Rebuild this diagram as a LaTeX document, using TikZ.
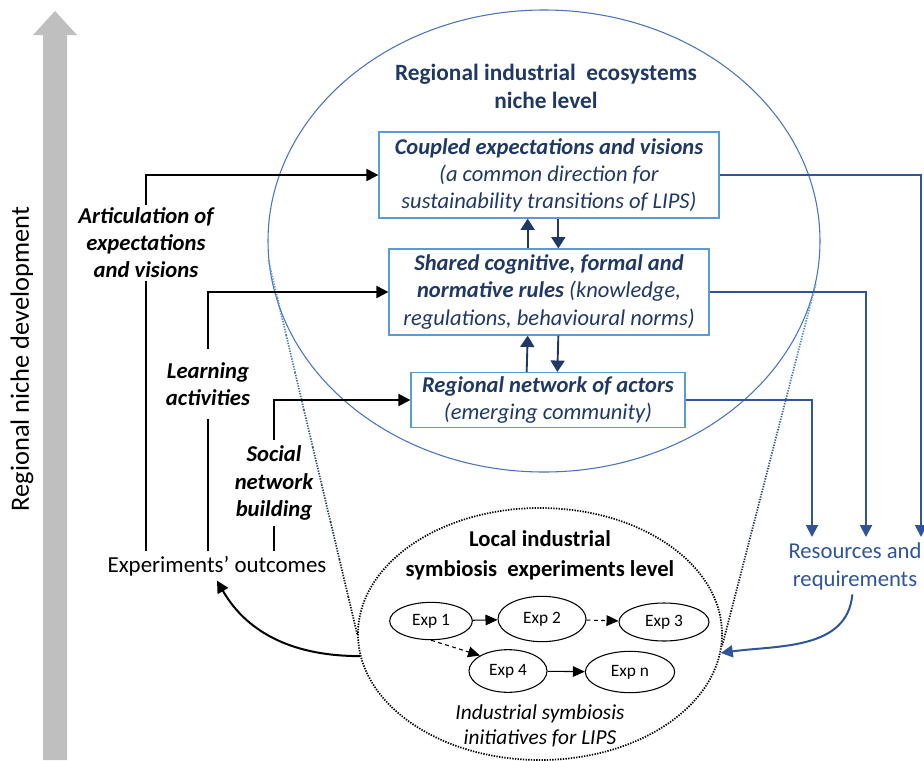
\documentclass[tikz,border=0pt]{standalone}
\usepackage{fontspec}
\setmainfont{Carlito}
\usetikzlibrary{arrows.meta,shapes.geometric,calc}
\definecolor{navy}{HTML}{1F3864}
\definecolor{boxblue}{HTML}{5B9BD5}
\definecolor{ellblue}{HTML}{4A73BD}
\definecolor{linkblue}{HTML}{2F5597}
\definecolor{bargray}{HTML}{BFBFBF}

\begin{document}
\begin{tikzpicture}[x=0.75pt,y=-0.75pt,
  lvlbox/.style={draw=boxblue,line width=0.9pt,align=center,text=navy,inner sep=0pt,font=\fontsize{16.9}{20.3}\selectfont},
  lbl/.style={align=center,inner xsep=2pt,font=\fontsize{17}{20.3}\selectfont\bfseries\itshape},
  expnode/.style={draw,ellipse,line width=0.8pt,inner sep=0pt,font=\fontsize{13}{15}\selectfont},
  blkline/.style={line width=1.5pt},
  blkarr/.style={line width=1.5pt,-{Triangle[length=9pt,width=9pt]}},
  bluarr/.style={draw=linkblue,line width=1.5pt,-{Triangle[length=9pt,width=9pt]}},
  navarr/.style={draw=navy,line width=1.4pt,-{Triangle[length=8.5pt,width=10.5pt]}},
  exparr/.style={line width=0.8pt,-{Triangle[length=9pt,width=8pt]}},
  zoomline/.style={line width=1.3pt,dash pattern=on 1pt off 1pt}]
\useasboundingbox (0,0) rectangle (924,760);

% development axis
\fill[bargray] (43,760) -- (43,35) -- (33,35) -- (55,11) -- (77,35) -- (67,35) -- (67,760) -- cycle;
\node[rotate=90,font=\fontsize{19.8}{22}\selectfont] (axis) at (22,359) {Regional niche development};

% regional niche level
\node[ellipse,draw=ellblue,line width=0.8pt,minimum width=414pt,minimum height=346.5pt,inner sep=0pt] (big) at (544,241) {};
\node[text=navy,align=center,font=\fontsize{17.5}{21}\selectfont\bfseries] (ttl) at (546,86) {Regional industrial\ \ ecosystems\\niche level};
\node[lvlbox,minimum width=255pt,minimum height=64.5pt] (b1) at (549,175) {\textbf{\textit{Coupled expectations and visions}}\\\textit{(a common direction for}\\\textit{sustainability transitions of LIPS)}};
\node[lvlbox,minimum width=240pt,minimum height=64.5pt] (b2) at (549,292) {\textbf{\textit{Shared cognitive, formal and}}\\\textbf{\textit{normative rules}} \textit{(knowledge,}\\\textit{regulations, behavioural norms)}};
\node[lvlbox,minimum width=205.5pt,minimum height=41.25pt] (b3) at (548,400) {\textbf{\textit{Regional network of actors}}\\\textit{(emerging community)}};
\foreach \u/\l in {b2/b1,b3/b2} {
  \draw[navarr] ([xshift=-16pt]\u.north) -- ([xshift=-16pt]\l.south);
  \draw[navarr] ([xshift=7pt]\l.south) -- ([xshift=7pt]\u.north);
}

% local experiments level
\node[ellipse,draw,zoomline,minimum width=273pt,minimum height=189pt,inner sep=0pt] (sm) at (540,634) {};
\node[align=center,font=\fontsize{17}{22.5}\selectfont\bfseries] (sttl) at (540,555) {Local industrial\\symbiosis\ \ experiments level};
\node[expnode,minimum width=62pt,minimum height=28pt] (e1) at (431,621) {Exp 1};
\node[expnode,minimum width=66pt,minimum height=34pt] (e2) at (542,619) {Exp 2};
\node[expnode,minimum width=67.5pt,minimum height=28.5pt] (e3) at (664,622) {Exp 3};
\node[expnode,minimum width=58.5pt,minimum height=32pt] (e4) at (508,671) {Exp 4};
\node[expnode,minimum width=67pt,minimum height=31pt] (en) at (630,672) {Exp n};
\node[align=center,font=\fontsize{16}{19}\selectfont\itshape] (sini) at (540,726) {Industrial symbiosis\\initiatives for LIPS};
\draw[exparr] (e1) -- (e2);
\draw[exparr,dash pattern=on 3pt off 2.5pt] (e2) -- (e3);
\draw[exparr,dash pattern=on 3pt off 2.5pt] (e1.south) -- (e4.north west);
\draw[exparr] (e4) -- (en);

% zoom lines
\foreach \i [evaluate=\i as \j using \i+1, evaluate=\i as \p using 100-\i*10] in {0,...,9} {
  \draw[zoomline,draw=boxblue!\p!black] ($(big.184)!\i/10!(sm.180)$) -- ($(big.184)!\j/10!(sm.180)$);
  \draw[zoomline,draw=boxblue!\p!black] ($(big.-9)!\i/10!(sm.-4)$) -- ($(big.-9)!\j/10!(sm.-4)$);
}

% left processes
\node[lbl,inner ysep=2pt] (art) at (146,243) {Articulation of\\expectations\\and visions};
\node[lbl,inner ysep=10pt] (lrn) at (208,384) {Learning\\activities};
\node[lbl,inner ysep=4pt] (soc) at (274,483) {Social\\network\\building};
\node[font=\fontsize{17.2}{20}\selectfont] (outc) at (217,566) {Experiments’ outcomes};
\draw[blkline] (outc.north -| art) -- (art.south);
\draw[blkarr] (art.north) |- (b1.west);
\draw[blkline] (outc.north -| lrn) -- (lrn.south);
\draw[blkarr] (lrn.north) |- (b2.west);
\draw[blkline] (outc.north -| soc) -- (soc.south);
\draw[blkarr] (soc.north) |- (b3.west);
\draw[blkarr] (sm.187) to[out=180,in=-60] (outc.south);

% resources
\coordinate (r1) at (921,537);
\coordinate (r2) at (866,537);
\coordinate (r3) at (812,537);
\node[text=linkblue,align=center,inner xsep=1pt,font=\fontsize{17}{21}\selectfont] (res) at (855,566) {Resources and\\requirements};
\draw[bluarr] (b1.east) -| (r1);
\draw[bluarr] (b2.east) -| (r2);
\draw[bluarr] (b3.east) -| (r3);
\draw[bluarr] ([xshift=-2pt]res.south) to[out=-95,in=8] (sm.-6);
\end{tikzpicture}
\end{document}
